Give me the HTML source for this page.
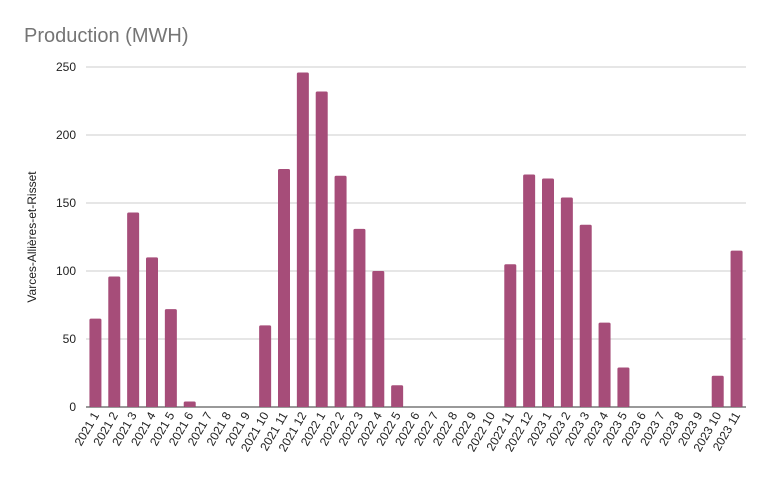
<!DOCTYPE html>
<html><head><meta charset="utf-8"><style>
body{margin:0;background:#fff;font-family:"Liberation Sans",sans-serif}
</style></head><body>
<svg width="768" height="481">
<text x="24" y="42" font-size="20" fill="#757575">Production (MWH)</text>
<text transform="translate(36,237) rotate(-90)" text-anchor="middle" font-size="12" fill="#222">Varces-Allières-et-Risset</text>
<g id="grid"></g><g id="bars"></g><g id="xl"></g>
</svg>
<script>
const categories=["2021 1","2021 2","2021 3","2021 4","2021 5","2021 6","2021 7","2021 8","2021 9","2021 10","2021 11","2021 12","2022 1","2022 2","2022 3","2022 4","2022 5","2022 6","2022 7","2022 8","2022 9","2022 10","2022 11","2022 12","2023 1","2023 2","2023 3","2023 4","2023 5","2023 6","2023 7","2023 8","2023 9","2023 10","2023 11"];
const values=[65,96,143,110,72,4,0,0,0,60,175,246,232,170,131,100,16,0,0,0,0,0,105,171,168,154,134,62,29,0,0,0,0,23,115];
const ticks=[0,50,100,150,200,250];
const NS="http://www.w3.org/2000/svg";
const x0=86,x1=746,y0=407,y1=67,maxV=250;
const step=(x1-x0)/categories.length;
const y=v=>y0-(v/maxV)*(y0-y1);
const xc=i=>x0+step*(i+0.5);
const g=document.getElementById('grid'),b=document.getElementById('bars'),xl=document.getElementById('xl');
function mk(t,a){const e=document.createElementNS(NS,t);for(const k in a)e.setAttribute(k,a[k]);return e;}
ticks.forEach(t=>{
 const l=mk('line',{x1:x0,x2:x1,y1:y(t),y2:y(t),stroke:t===0?'#333':'#ccc','stroke-width':1});
 
 
 g.appendChild(l);
 const tx=mk('text',{x:76,y:y(t)+4,'text-anchor':'end','font-size':12,fill:'#222'});
 tx.textContent=t;
 
 
 g.appendChild(tx);
});
values.forEach((v,i)=>{
 if(v>0){
 const h=y0-y(v);
 const r=mk('rect',{x:xc(i)-6,y:y(v),width:12,height:h,rx:Math.min(1.5,h/2),fill:'#a64d79'});
 
 
 b.appendChild(r);}
 const t=mk('text',{transform:`translate(${xc(i)+4},415) rotate(-60)`,'text-anchor':'end','font-size':12,fill:'#222'});
 t.textContent=categories[i];
 
 
 xl.appendChild(t);
});
</script>
</body></html>
